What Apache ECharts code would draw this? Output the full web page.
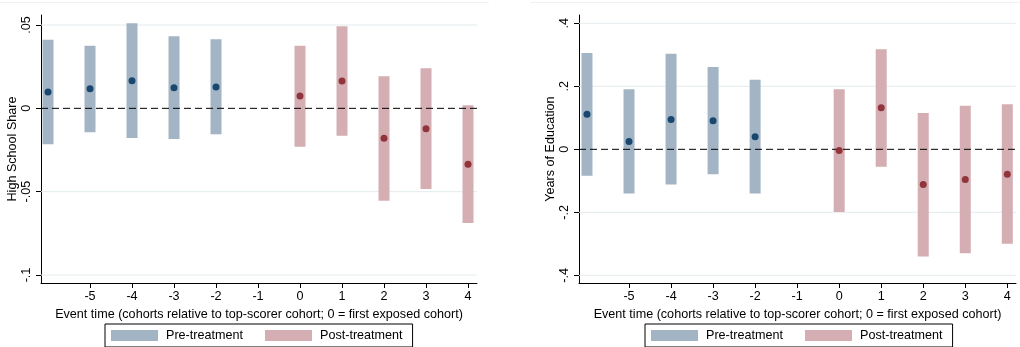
<!DOCTYPE html>
<html>
<head>
<meta charset="utf-8">
<script src="https://cdn.jsdelivr.net/npm/echarts@6/dist/echarts.min.js"></script>
<style>
  html, body { margin: 0; padding: 0; background: #fff; }
  #chart { width: 1020px; height: 347px; }
</style>
</head>
<body>
<div id="chart"></div>
<script>
// Event-study estimates with 95% confidence bands, two outcomes side by side.
const preTime = [-6, -5, -4, -3, -2];
const postTime = [0, 1, 2, 3, 4];
const xTickLabels = [-5, -4, -3, -2, -1, 0, 1, 2, 3, 4];

// High School Share
const hsPreCoef = [0.0098, 0.0118, 0.0166, 0.0124, 0.0128];
const hsPreLow = [-0.0216, -0.0144, -0.0178, -0.0184, -0.0156];
const hsPreHigh = [0.0412, 0.0376, 0.0510, 0.0432, 0.0414];
const hsPostCoef = [0.0074, 0.0164, -0.0180, -0.0122, -0.0336];
const hsPostLow = [-0.0230, -0.0164, -0.0554, -0.0484, -0.0688];
const hsPostHigh = [0.0376, 0.0492, 0.0192, 0.0240, 0.0018];
const hsTicks = [-0.1, -0.05, 0, 0.05];

// Years of Education
const edPreCoef = [0.111, 0.025, 0.095, 0.091, 0.040];
const edPreLow = [-0.084, -0.140, -0.112, -0.079, -0.140];
const edPreHigh = [0.306, 0.191, 0.303, 0.261, 0.221];
const edPostCoef = [-0.004, 0.132, -0.112, -0.096, -0.079];
const edPostLow = [-0.199, -0.055, -0.340, -0.330, -0.300];
const edPostHigh = [0.191, 0.318, 0.115, 0.138, 0.143];
const edTicks = [-0.4, -0.2, 0, 0.2, 0.4];

const FONT = 'Liberation Sans, Arial, sans-serif';
const FONT_SIZE = 12.6;
const PRE_BAR = '#a3b4c4';
const POST_BAR = '#d4aeb2';
const PRE_DOT = '#1a476f';
const POST_DOT = '#90353b';
const GRID_LINE = '#e3ebee';

function stataNum(v) {
  if (Math.abs(v) < 1e-12) return '0';
  return String(+v.toFixed(4)).replace('0.', '.');
}

function bandData(t, lo, hi) {
  return t.map((x, i) => [x, lo[i], hi[i]]);
}
function pointData(t, c) {
  return t.map((x, i) => [x, c[i]]);
}

function bandSeries(name, idx, data, color) {
  return {
    name: name,
    type: 'custom',
    xAxisIndex: idx, yAxisIndex: idx,
    z: 2,
    itemStyle: { color: color },
    renderItem: function (params, api) {
      const top = api.coord([api.value(0), api.value(2)]);
      const bot = api.coord([api.value(0), api.value(1)]);
      return {
        type: 'rect',
        shape: { x: top[0] - 5.5, y: top[1], width: 11, height: bot[1] - top[1] },
        style: { fill: color }
      };
    },
    encode: { x: 0, y: [1, 2] },
    data: data
  };
}

function dotSeries(name, idx, data, color) {
  return {
    name: name,
    type: 'scatter',
    xAxisIndex: idx, yAxisIndex: idx,
    z: 5,
    symbol: 'circle',
    symbolSize: 7,
    itemStyle: { color: color, opacity: 1 },
    data: data
  };
}

// horizontal reference lines spanning the plot area
function refLineSeries(idx, values, style, z) {
  return {
    type: 'custom',
    xAxisIndex: idx, yAxisIndex: idx,
    z: z,
    silent: true,
    renderItem: function (params, api) {
      const cs = params.coordSys;
      const y = api.coord([0, api.value(0)])[1];
      return {
        type: 'line',
        shape: { x1: cs.x, y1: y, x2: cs.x + cs.width, y2: y },
        style: style
      };
    },
    encode: { y: 0 },
    data: values.map(v => [v])
  };
}

function xAxisFor(idx, min, max) {
  return {
    type: 'value', gridIndex: idx, min: min, max: max,
    name: 'Event time (cohorts relative to top-scorer cohort; 0 = first exposed cohort)',
    nameLocation: 'middle', nameGap: 20,
    nameTextStyle: { fontFamily: FONT, fontSize: FONT_SIZE, color: '#000' },
    axisLine: { show: true, onZero: false, lineStyle: { color: '#000', width: 1 } },
    axisTick: { show: true, length: 5, customValues: xTickLabels, lineStyle: { color: '#000' } },
    axisLabel: { customValues: xTickLabels, margin: 7, fontFamily: FONT, fontSize: FONT_SIZE, color: '#000' },
    splitLine: { show: false }
  };
}

function yAxisFor(idx, min, max, ticks, title) {
  return {
    type: 'value', gridIndex: idx, min: min, max: max,
    name: title, nameLocation: 'middle', nameRotate: 90, nameGap: 21,
    nameTextStyle: { fontFamily: FONT, fontSize: FONT_SIZE, color: '#000' },
    axisLine: { show: true, onZero: false, lineStyle: { color: '#000', width: 1 } },
    axisTick: { show: true, length: 5, customValues: ticks, lineStyle: { color: '#000' } },
    axisLabel: {
      customValues: ticks, rotate: 90, margin: 8,
      fontFamily: FONT, fontSize: FONT_SIZE, color: '#000',
      formatter: stataNum
    },
    splitLine: { show: false }
  };
}

function legendAt(left) {
  return {
    data: ['Pre-treatment', 'Post-treatment'],
    left: left, top: 324,
    orient: 'horizontal',
    icon: 'rect',
    itemWidth: 47, itemHeight: 11, itemGap: 22,
    padding: [5, 10, 5, 6],
    borderColor: '#000', borderWidth: 1, borderRadius: 0,
    selectedMode: false,
    textStyle: { fontFamily: FONT, fontSize: FONT_SIZE, color: '#000', padding: [0, 0, 0, 3] }
  };
}

const dashed = { stroke: '#000', lineWidth: 1, lineDash: [7, 4] };
const faint = { stroke: GRID_LINE, lineWidth: 1 };

const option = {
  animation: false,
  backgroundColor: '#fff',
  grid: [
    { left: 41, top: 15, width: 436, height: 268 },
    { left: 579, top: 15, width: 437, height: 268 }
  ],
  xAxis: [xAxisFor(0, -6.167, 4.214), xAxisFor(1, -6.19, 4.207)],
  yAxis: [
    yAxisFor(0, -0.1048, 0.056, hsTicks, 'High School Share'),
    yAxisFor(1, -0.4244, 0.4264, edTicks, 'Years of Education')
  ],
  legend: [legendAt(105), legendAt(645)],
  graphic: [
    { type: 'line', shape: { x1: 0, y1: 2.5, x2: 489, y2: 2.5 }, style: { stroke: '#eef2f4', lineWidth: 1 }, silent: true },
    { type: 'line', shape: { x1: 530, y1: 2.5, x2: 1020, y2: 2.5 }, style: { stroke: '#eef2f4', lineWidth: 1 }, silent: true }
  ],
  series: [
    refLineSeries(0, hsTicks.filter(v => v !== 0), faint, 1),
    refLineSeries(1, edTicks.filter(v => v !== 0), faint, 1),
    bandSeries('Pre-treatment', 0, bandData(preTime, hsPreLow, hsPreHigh), PRE_BAR),
    bandSeries('Post-treatment', 0, bandData(postTime, hsPostLow, hsPostHigh), POST_BAR),
    bandSeries('Pre-treatment', 1, bandData(preTime, edPreLow, edPreHigh), PRE_BAR),
    bandSeries('Post-treatment', 1, bandData(postTime, edPostLow, edPostHigh), POST_BAR),
    refLineSeries(0, [0], dashed, 3),
    refLineSeries(1, [0], dashed, 3),
    dotSeries('hs-pre-coef', 0, pointData(preTime, hsPreCoef), PRE_DOT),
    dotSeries('hs-post-coef', 0, pointData(postTime, hsPostCoef), POST_DOT),
    dotSeries('ed-pre-coef', 1, pointData(preTime, edPreCoef), PRE_DOT),
    dotSeries('ed-post-coef', 1, pointData(postTime, edPostCoef), POST_DOT)
  ]
};

const chart = echarts.init(document.getElementById('chart'), null, { renderer: 'canvas' });
chart.setOption(option);
</script>
</body>
</html>
